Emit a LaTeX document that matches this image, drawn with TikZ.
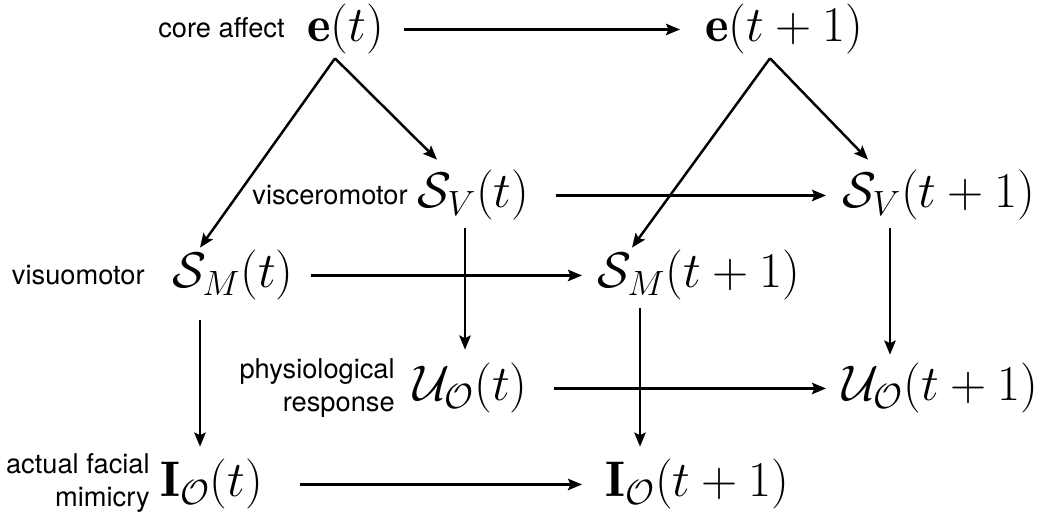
\RequirePackage{fix-cm}
\documentclass[tikz,border=0pt]{standalone}
\usepackage{amsmath,amssymb}
\usepackage{fontspec}
\setsansfont{TeX Gyre Heros}
\usepackage{tikz}
\usetikzlibrary{arrows.meta,calc}

\begin{document}
\begin{tikzpicture}[>={Stealth[length=8pt,width=6.5pt,inset=1.5pt]},
  var/.style={inner sep=0pt,anchor=base west,font=\fontsize{28.5}{33}\selectfont},
  lab/.style={inner sep=0pt,font=\sffamily\fontsize{15.5}{18.5}\selectfont,align=right},
  link/.style={->,line width=1.4pt},
  flow/.style={link,shorten <=0.52cm,shorten >=0.32cm}]
  \useasboundingbox (0,0) rectangle (20.92,10.26);
  % states at t and t+1
  \node[var] (et)   at (6.14,9.42)  {$\mathbf{e}(t)$};
  \node[var] (et1)  at (14.10,9.42) {$\mathbf{e}(t+1)$};
  \node[var] (svt)  at (8.34,6.10)  {$\mathcal{S}_V(t)$};
  \node[var] (svt1) at (16.84,6.10) {$\mathcal{S}_V(t+1)$};
  \node[var] (smt)  at (3.44,4.50)  {$\mathcal{S}_M(t)$};
  \node[var] (smt1) at (11.94,4.50) {$\mathcal{S}_M(t+1)$};
  \node[var] (uot)  at (8.26,2.24)  {$\mathcal{U}_{\mathcal{O}}(t)$};
  \node[var] (uot1) at (16.84,2.24) {$\mathcal{U}_{\mathcal{O}}(t+1)$};
  \node[var] (iot)  at (3.20,0.32)  {$\mathbf{I}_{\mathcal{O}}(t)$};
  \node[var] (iot1) at (12.10,0.32) {$\mathbf{I}_{\mathcal{O}}(t+1)$};
  % side labels
  \node[lab,anchor=base east] (lcore) at (5.70,9.50) {core affect};
  \node[lab,anchor=base east] (lvisc) at (8.16,6.16) {visceromotor};
  \node[lab,anchor=base east] (lvisu) at (2.90,4.56) {visuomotor};
  \node[lab,anchor=east] (lphys) at (7.90,2.50) {physiological\\response};
  \node[lab,anchor=east] (lface) at (3.00,0.60) {actual facial\\mimicry};
  % forks below e
  \coordinate (forkA) at ($(et.south west)+(0.56,-0.07)$);
  \coordinate (forkB) at ($(et1.south west)+(1.30,-0.07)$);
  \draw[link] (forkA) -- ($(smt.north west)+(0.56,0.05)$);
  \draw[link] (forkA) -- ($(svt.north west)+(0.40,0.21)$);
  \draw[link] (forkB) -- ($(svt1.north west)+(0.52,0.21)$);
  \draw[link] (forkB) -- ($(smt1.north west)+(0.70,0.05)$);
  % over time
  \draw[flow,shorten <=0.40cm,shorten >=0.5cm] (et) -- (et1);
  \draw[flow] (svt) -- (svt1);
  \draw[flow,shorten <=0.34cm,shorten >=0.3cm] (smt) -- (smt1);
  \draw[flow] (uot) -- (uot1);
  \draw[flow,shorten <=0.72cm,shorten >=0.46cm] (iot) -- (iot1);
  % down the levels
  \draw[link] ($(svt.south west)+(0.96,-0.15)$) -- ($(svt.south west|-uot.north)+(0.96,0.27)$);
  \draw[link] ($(smt.south west)+(0.56,-0.39)$) -- ($(smt.south west|-iot.north)+(0.56,0.25)$);
  \draw[link] ($(smt1.south west)+(0.86,-0.14)$) -- ($(smt1.south west|-iot1.north)+(0.86,0.25)$);
  \draw[link] ($(svt1.south west)+(0.96,-0.15)$) -- ($(svt1.south west|-uot1.north)+(0.96,0.17)$);
\end{tikzpicture}
\end{document}
